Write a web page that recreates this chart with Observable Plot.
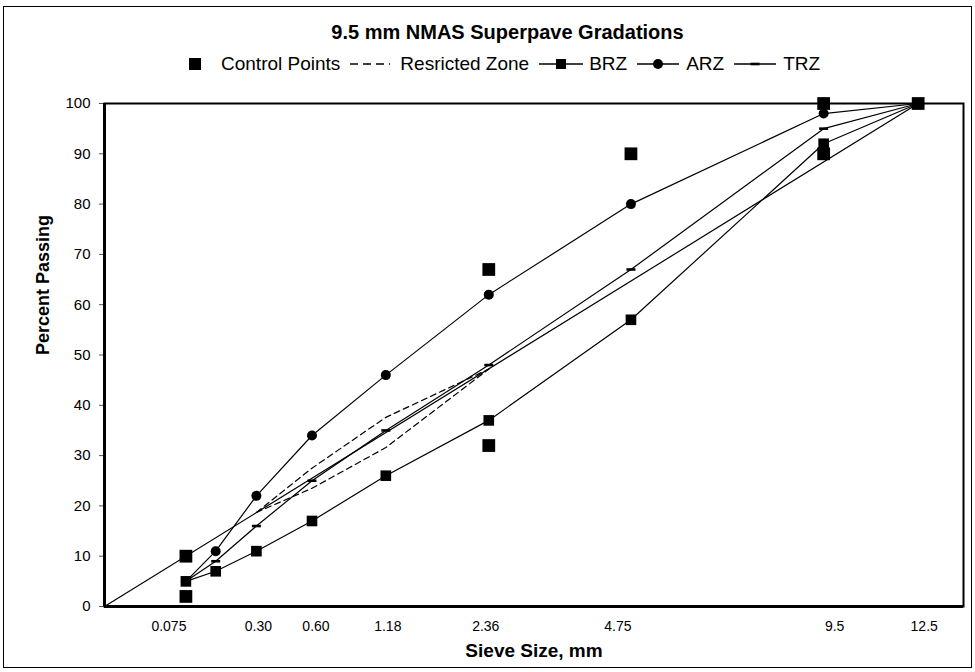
<!DOCTYPE html>
<html>
<head>
<meta charset="utf-8">
<script src="https://cdn.jsdelivr.net/npm/d3@7"></script>
<script src="https://cdn.jsdelivr.net/npm/@observablehq/plot@0.6"></script>
<style>
  body { margin: 0; background: #fff; font-family: "Liberation Sans", Arial, sans-serif; }
  #page { position: relative; width: 975px; height: 672px; overflow: hidden; }
  #border { position: absolute; left: 3px; top: 6px; width: 969px; height: 662px; border: 1px solid #000; box-sizing: border-box; }
  #title { position: absolute; left: 20px; top: 20px; width: 975px; text-align: center; font-weight: bold; font-size: 20px; line-height: 24px; }
  #legend { position: absolute; left: 189px; top: 53px; display: flex; align-items: center; font-size: 19px; line-height: 22px; white-space: nowrap; }
  #legend .item { display: flex; align-items: center; margin-right: 10px; }
  #legend svg { display: block; }
  #chart { position: absolute; left: 0; top: 80px; }
</style>
</head>
<body>
<div id="page">
  <div id="border"></div>
  <div id="title">9.5 mm NMAS Superpave Gradations</div>
  <div id="legend"></div>
  <div id="chart"></div>
</div>
<script>
// ---- data ----
const sieves = [12.5, 9.5, 4.75, 2.36, 1.18, 0.6, 0.3, 0.15, 0.075];
const brz = [100, 92, 57, 37, 26, 17, 11, 7, 5];
const arz = [100, 98, 80, 62, 46, 34, 22, 11, 5];
const trz = [100, 95, 67, 48, 35, 25, 16, 9, 5];

const controlSieves = [0.075, 0.075, 2.36, 2.36, 4.75, 9.5, 9.5, 12.5];
const controlValues = [2, 10, 32, 67, 90, 90, 100, 100];

const rzSieves = [0.3, 0.6, 1.18, 2.36];
const rzUpper = [18.7, 27.5, 37.6, 47.2];
const rzLower = [18.7, 23.5, 31.6, 47.2];

const maxDensitySieves = [0, 12.5];
const maxDensityValues = [0, 100];

const tickSieves = [0.075, 0.3, 0.6, 1.18, 2.36, 4.75, 9.5, 12.5];
const tickLabels = ["0.075", "0.30", "0.60", "1.18", "2.36", "4.75", "9.5", "12.5"];
const yTicks = [0, 10, 20, 30, 40, 50, 60, 70, 80, 90, 100];

// label nudges (layout only, px)
const labelNudge = [-17, 2, 4, 2, -3, -13, 11, 6];

// ---- tables ----
const series = (name, vals) => sieves.map((s, i) => ({series: name, sieve: s, value: vals[i]}));
const brzData = series("BRZ", brz);
const arzData = series("ARZ", arz);
const trzData = series("TRZ", trz);
const controlData = controlSieves.map((s, i) => ({sieve: s, value: controlValues[i]}));
const rzUpperData = rzSieves.map((s, i) => ({sieve: s, value: rzUpper[i]}));
const rzLowerData = rzSieves.map((s, i) => ({sieve: s, value: rzLower[i]}));
const mdData = maxDensitySieves.map((s, i) => ({sieve: s, value: maxDensityValues[i]}));

const dashSymbol = { draw(ctx) { ctx.rect(-4.5, -1.3, 9, 2.6); } };

const lineOpts = {x: "sieve", y: "value", stroke: "black", strokeWidth: 1.2};

const chart = Plot.plot({
  width: 975,
  height: 590,
  marginLeft: 104,
  marginRight: 12,
  marginTop: 23,
  marginBottom: 64,
  style: {fontFamily: '"Liberation Sans", Arial, sans-serif', fontSize: "15px", background: "transparent", color: "black"},
  x: {type: "pow", exponent: 0.45, domain: [0, 14.1], axis: null},
  y: {domain: [0, 100], axis: null},
  marks: [
    Plot.axisY({ticks: yTicks, tickSize: 5, tickPadding: 9, fontSize: 15, stroke: "#555", label: null}),
    Plot.line(mdData, lineOpts),
    Plot.line(rzUpperData, {x: "sieve", y: "value", stroke: "black", strokeWidth: 1.2, strokeDasharray: "6,4"}),
    Plot.line(rzLowerData, {x: "sieve", y: "value", stroke: "black", strokeWidth: 1.2, strokeDasharray: "6,4"}),
    Plot.line(brzData, lineOpts),
    Plot.line(arzData, lineOpts),
    Plot.line(trzData, lineOpts),
    Plot.dot(brzData, {x: "sieve", y: "value", symbol: "square", r: 6, fill: "black"}),
    Plot.dot(arzData, {x: "sieve", y: "value", symbol: "circle", r: 5, fill: "black"}),
    Plot.dot(trzData, {x: "sieve", y: "value", symbol: dashSymbol, fill: "black"}),
    Plot.dot(controlData, {x: "sieve", y: "value", symbol: "square", r: 7.2, fill: "black"}),
    Plot.frame({stroke: "black", strokeWidth: 2}),
    Plot.ruleX([0], {stroke: "black", strokeWidth: 3}),
    Plot.ruleY([0], {stroke: "black", strokeWidth: 3}),
    ...tickLabels.map((t, i) => Plot.text([t], {x: () => tickSieves[i], text: d => d, frameAnchor: "bottom", dy: 20, dx: labelNudge[i], fontSize: 14, lineAnchor: "middle"})),
    Plot.text(["Sieve Size, mm"], {frameAnchor: "bottom", dy: 44, fontSize: 19, fontWeight: "bold", lineAnchor: "middle"}),
    Plot.text(["Percent Passing"], {frameAnchor: "left", dx: -61, rotate: -90, fontSize: 18, fontWeight: "bold", lineAnchor: "middle"})
  ]
});
document.getElementById("chart").appendChild(chart);

// ---- legend ----
const legendItems = [
  {label: "Control Points", gap: 20, svg: '<svg width="12" height="14"><rect x="0" y="1" width="12" height="12" fill="black"/></svg>'},
  {label: "Resricted Zone", gap: 10, svg: '<svg width="40" height="14"><line x1="0" y1="7" x2="40" y2="7" stroke="black" stroke-width="1.5" stroke-dasharray="8,5"/></svg>'},
  {label: "BRZ", gap: 6, svg: '<svg width="44" height="14"><line x1="0" y1="7" x2="44" y2="7" stroke="black" stroke-width="1.3"/><rect x="17" y="2" width="10" height="10" fill="black"/></svg>'},
  {label: "ARZ", gap: 7, svg: '<svg width="42" height="14"><line x1="0" y1="7" x2="42" y2="7" stroke="black" stroke-width="1.3"/><circle cx="21" cy="7" r="5" fill="black"/></svg>'},
  {label: "TRZ", gap: 7, svg: '<svg width="42" height="14"><line x1="0" y1="7" x2="42" y2="7" stroke="black" stroke-width="1.3"/><rect x="16.5" y="5.7" width="9" height="2.6" fill="black"/></svg>'}
];
const legend = document.getElementById("legend");
legendItems.forEach(it => {
  const div = document.createElement("div");
  div.className = "item";
  div.innerHTML = it.svg + "<span>" + it.label + "</span>";
  div.querySelector("svg").style.marginRight = it.gap + "px";
  legend.appendChild(div);
});
</script>
</body>
</html>
